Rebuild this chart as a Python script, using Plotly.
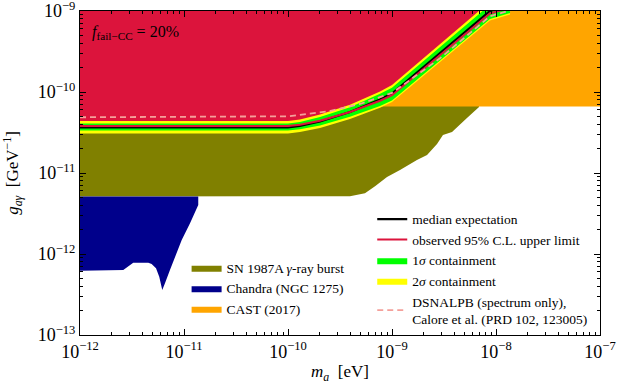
import numpy as np
import plotly.graph_objects as go

# log10 values
mass_log = [-12.0, -10.0, -9.885, -9.692, -9.404, -9.212, -9.115, -9.0, -8.538, -8.058, -7.865]
median_log = [-10.438, -10.438, -10.42, -10.364, -10.247, -10.148, -10.093, -10.019, -9.519, -9.0, -8.928]
observed_log = [-10.42, -10.42, -10.405, -10.354, -10.247, -10.158, -10.108, -10.039, -9.544, -9.03, -8.958]
sig1_up_log = [-10.389, -10.389, -10.37, -10.309, -10.187, -10.083, -10.023, -9.949, -9.444, -8.923, -8.851]
sig1_lo_log = [-10.475, -10.475, -10.46, -10.414, -10.307, -10.218, -10.173, -10.104, -9.614, -9.098, -9.026]
sig2_up_log = [-10.358, -10.358, -10.34, -10.279, -10.157, -10.048, -9.993, -9.914, -9.409, -8.884, -8.812]
sig2_lo_log = [-10.512, -10.512, -10.495, -10.444, -10.332, -10.238, -10.193, -10.124, -9.629, -9.116, -9.044]

calore_mass_log = [-12.0, -10.0, -9.6, -9.308, -9.0, -8.538, -8.058, -7.865]
calore_g_log = [-10.312, -10.30, -10.235, -10.148, -10.012, -9.584, -9.065, -8.993]

sn_mass_log = [-12.0, -9.404, -9.26, -9.163, -9.048, -8.923, -8.760, -8.663, -8.567, -8.510,
               -8.423, -8.375, -8.279, -8.163, -8.163, -12.0]
sn_g_log = [-11.290, -11.287, -11.25, -11.165, -11.049, -10.963, -10.840, -10.778, -10.642, -10.531,
            -10.494, -10.432, -10.321, -10.185, -8.5, -8.5]

chandra_mass_log = [-12.0, -10.863, -10.863, -10.942, -11.022, -11.087, -11.135, -11.183, -11.209,
                    -11.238, -11.269, -11.311, -11.343, -11.488, -11.584, -12.0]
chandra_g_log = [-11.290, -11.290, -11.395, -11.621, -11.827, -12.033, -12.198, -12.362, -12.444,
                 -12.280, -12.177, -12.123, -12.107, -12.107, -12.198, -12.206]

cast_mass_log = [-12.0, -7.0, -7.0, -12.0]
cast_g_log = [-10.180, -10.180, -8.5, -8.5]

x_decades = [-12, -11, -10, -9, -8, -7]
y_decades = [-13, -12, -11, -10, -9]

p = lambda a: np.power(10.0, np.array(a, dtype=float))

fig = go.Figure()

fig.add_trace(go.Scatter(x=p(sn_mass_log), y=p(sn_g_log), fill="toself", fillcolor="#808000",
                         line=dict(width=0, color="#808000"), mode="lines",
                         name="SN 1987A <i>γ</i>-ray burst", legend="legend", legendrank=1))
fig.add_trace(go.Scatter(x=p(chandra_mass_log), y=p(chandra_g_log), fill="toself", fillcolor="#00008B",
                         line=dict(width=0, color="#00008B"), mode="lines",
                         name="Chandra (NGC 1275)", legend="legend", legendrank=2))
fig.add_trace(go.Scatter(x=p(cast_mass_log), y=p(cast_g_log), fill="toself", fillcolor="#FFA500",
                         line=dict(width=0, color="#FFA500"), mode="lines",
                         name="CAST (2017)", legend="legend", legendrank=3))

# excluded region above the observed limit
fig.add_trace(go.Scatter(x=p(mass_log + [-7.865, -12.0]), y=p(observed_log + [-8.5, -8.5]),
                         fill="toself", fillcolor="#DC143C", line=dict(width=0), mode="lines",
                         showlegend=False, hoverinfo="skip"))

fig.add_trace(go.Scatter(x=p(mass_log + mass_log[::-1]), y=p(sig2_up_log + sig2_lo_log[::-1]),
                         fill="toself", fillcolor="#FFFF00", line=dict(width=0, color="#FFFF00"),
                         mode="lines", name="2<i>σ</i> containment", legend="legend2", legendrank=4))
fig.add_trace(go.Scatter(x=p(mass_log + mass_log[::-1]), y=p(sig1_up_log + sig1_lo_log[::-1]),
                         fill="toself", fillcolor="#00FF00", line=dict(width=0, color="#00FF00"),
                         mode="lines", name="1<i>σ</i> containment", legend="legend2", legendrank=3))
fig.add_trace(go.Scatter(x=p(mass_log), y=p(median_log), mode="lines",
                         line=dict(color="black", width=2.2),
                         name="median expectation", legend="legend2", legendrank=1))
fig.add_trace(go.Scatter(x=p(mass_log), y=p(observed_log), mode="lines",
                         line=dict(color="#DC143C", width=2),
                         name="observed 95% C.L. upper limit", legend="legend2", legendrank=2))
fig.add_trace(go.Scatter(x=p(calore_mass_log), y=p(calore_g_log), mode="lines",
                         line=dict(color="#F4A09A", width=1.8, dash="6px,4px"),
                         name="DSNALPB (spectrum only),<br>Calore et al. (PRD 102, 123005)",
                         legend="legend2", legendrank=5))


def minor_vals(decades):
    return [k * 10.0 ** d for d in decades[:-1] for k in range(2, 10)]


axis_common = dict(
    type="log", tickmode="array", automargin=False, ticklabeloverflow="allow",
    showgrid=False, zeroline=False, showline=True, linecolor="black", linewidth=1,
    mirror="allticks", ticks="inside", ticklen=6, tickcolor="black",
    tickfont=dict(size=18, color="black"),
)

fig.update_xaxes(range=[-12, -7], tickvals=p(x_decades),
                 ticktext=[f"10<sup>−{-d}</sup>" for d in x_decades],
                 minor=dict(ticks="inside", ticklen=3, tickvals=minor_vals(x_decades), tickcolor="black"),
                 title=dict(text="<i>m</i><sub><i>a</i></sub>  [eV]", font=dict(size=17)),
                 **axis_common)
fig.update_yaxes(range=[-13, -9], tickvals=p(y_decades),
                 ticktext=[f"10<sup>−{-d}</sup>" for d in y_decades],
                 minor=dict(ticks="inside", ticklen=3, tickvals=minor_vals(y_decades), tickcolor="black"),
                 title=dict(text="<i>g</i><sub><i>aγ</i></sub>  [GeV<sup>−1</sup>]", font=dict(size=17)),
                 **axis_common)

fig.add_annotation(text="<i>f</i><sub>fail−CC</sub> = 20%", xref="paper", yref="paper",
                   x=0.02, y=0.97, xanchor="left", yanchor="top", showarrow=False,
                   font=dict(size=16, color="black"))

fig.update_layout(
    width=623, height=384,
    margin=dict(l=80, r=23, t=11, b=49),
    paper_bgcolor="white", plot_bgcolor="white",
    font=dict(family="Liberation Serif, DejaVu Serif, serif", color="black"),
    legend=dict(x=0.205, y=0.255, xanchor="left", yanchor="top", bgcolor="rgba(0,0,0,0)",
                font=dict(size=13.5), traceorder="normal", tracegroupgap=0, itemwidth=30),
    legend2=dict(x=0.562, y=0.405, xanchor="left", yanchor="top", bgcolor="rgba(0,0,0,0)",
                 font=dict(size=13.5), traceorder="normal", tracegroupgap=0, itemwidth=30),
)

# page body has a default 8px margin; drop it so the figure sits at the window origin
fig.write_html("out.html", config={"displayModeBar": False},
               post_script="document.body.style.margin='0';")
